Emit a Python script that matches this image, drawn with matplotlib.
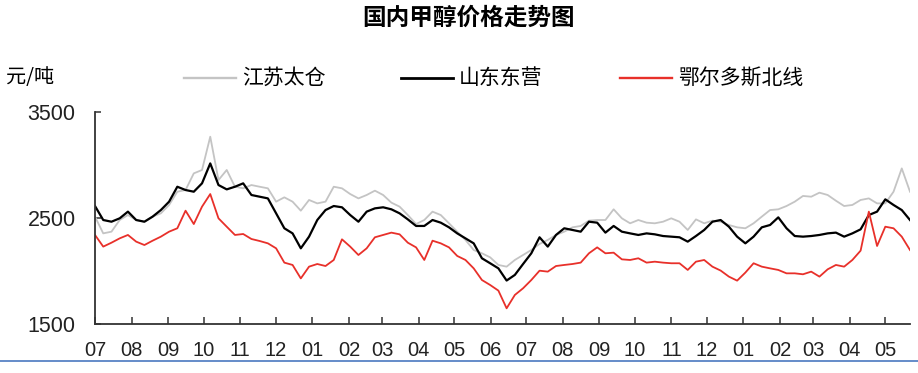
import pandas as pd
import matplotlib
matplotlib.use("Agg")
import matplotlib.pyplot as plt
import matplotlib.dates as mdates
from matplotlib.lines import Line2D

plt.rcParams['font.family'] = ['Noto Sans CJK SC', 'DejaVu Sans']

# roughly weekly samples, 2020-07-01 .. 2022-05-22
start_date = "2020-07-01"
end_date = "2022-05-22"

jiangsu_taicang = [
    2513, 2355, 2371, 2481, 2528, 2481, 2465, 2513, 2544, 2623,
    2748, 2764, 2921, 2953, 3267, 2858, 2953, 2795, 2780, 2811,
    2795, 2780, 2654, 2695, 2654, 2569, 2670, 2638, 2654, 2795,
    2780, 2726, 2685, 2717, 2758, 2717, 2645, 2607, 2528, 2443,
    2481, 2560, 2528, 2450, 2371, 2293, 2198, 2167, 2129, 2057,
    2041, 2104, 2151, 2198, 2255, 2293, 2340, 2371, 2412, 2425,
    2475, 2481, 2481, 2582, 2497, 2450, 2481, 2456, 2450, 2465,
    2497, 2465, 2387, 2487, 2450, 2475, 2465, 2434, 2412, 2403,
    2450, 2513, 2575, 2582, 2613, 2654, 2708, 2701, 2739, 2717,
    2663, 2613, 2623, 2670, 2685, 2638, 2638, 2748, 2968, 2748,
]

shandong_dongying = [
    2613, 2481, 2465, 2497, 2560, 2481, 2465, 2513, 2575, 2654,
    2795, 2764, 2748, 2827, 3015, 2811, 2770, 2795, 2827, 2717,
    2701, 2685, 2544, 2403, 2355, 2214, 2324, 2481, 2575, 2613,
    2601, 2528, 2465, 2560, 2591, 2601, 2582, 2544, 2487, 2425,
    2425, 2481, 2456, 2412, 2355, 2308, 2261, 2120, 2073, 2025,
    1910, 1963, 2066, 2167, 2318, 2230, 2340, 2403, 2387, 2371,
    2465, 2456, 2362, 2425, 2371, 2355, 2340, 2355, 2346, 2330,
    2324, 2318, 2277, 2330, 2387, 2465, 2481, 2418, 2324, 2261,
    2324, 2412, 2434, 2506, 2403, 2330, 2324, 2330, 2340, 2355,
    2362, 2324, 2355, 2393, 2528, 2560, 2676, 2623, 2575, 2481,
]

ordos_north = [
    2340, 2230, 2267, 2308, 2340, 2277, 2245, 2286, 2324, 2371,
    2403, 2569, 2443, 2607, 2726, 2497, 2418, 2340, 2349, 2302,
    2283, 2261, 2214, 2079, 2057, 1930, 2041, 2066, 2047, 2104,
    2299, 2230, 2151, 2214, 2318, 2340, 2362, 2346, 2267, 2223,
    2104, 2286, 2261, 2223, 2142, 2104, 2025, 1915, 1868, 1815,
    1648, 1774, 1837, 1915, 2003, 1994, 2047, 2057, 2066, 2079,
    2167, 2223, 2167, 2173, 2110, 2104, 2120, 2079, 2088, 2079,
    2073, 2073, 2010, 2088, 2104, 2041, 2004, 1947, 1909, 1985,
    2073, 2041, 2025, 2010, 1978, 1978, 1969, 1994, 1947, 2016,
    2057, 2041, 2104, 2192, 2560, 2236, 2418, 2403, 2324, 2198,
]

series_names = ["江苏太仓", "山东东营", "鄂尔多斯北线"]
series_colors = ["#c4c4c4", "#000000", "#e8302a"]
series_widths = [1.3, 1.6, 1.3]

dates = pd.date_range(start_date, end_date, periods=len(jiangsu_taicang))
all_series = [jiangsu_taicang, shandong_dongying, ordos_north]

fig = plt.figure(figsize=(9.18, 3.73), dpi=100)
ax = fig.add_axes([95 / 918, 1 - 324 / 373, 815 / 918, 212 / 373])

for vals, color, lw in zip(all_series, series_colors, series_widths):
    ax.plot(dates, vals, color=color, linewidth=lw)

ax.set_ylim(1500, 3500)
ax.set_yticks([1500, 2500, 3500])
ax.set_xlim(pd.Timestamp(start_date), pd.Timestamp(end_date))
ax.xaxis.set_major_locator(mdates.MonthLocator())
ax.xaxis.set_major_formatter(mdates.DateFormatter("%m"))

for s in ["top", "right"]:
    ax.spines[s].set_visible(False)
for s in ["left", "bottom"]:
    ax.spines[s].set_color("#333333")
    ax.spines[s].set_linewidth(1.3)

ax.tick_params(axis="x", direction="in", length=5, width=1.1, color="#333333",
               pad=12, labelsize=14.5)
ax.tick_params(axis="y", direction="in", length=4, width=1.1, color="#333333",
               pad=14, labelsize=15.5)
for lbl in ax.get_xticklabels() + ax.get_yticklabels():
    lbl.set_fontfamily("Liberation Sans")
    lbl.set_color("#222222")

fig.text(469 / 918, 1 - 18 / 373, "国内甲醇价格走势图", ha="center", va="center",
         fontsize=17, fontweight="bold")
fig.text(6 / 918, 1 - 78 / 373, "元/吨", ha="left", va="center", fontsize=14.5)

# hand-placed legend row
legend_x = [184, 401, 620]
for x0, name, color, lw in zip(legend_x, series_names, series_colors, series_widths):
    fig.add_artist(Line2D([x0 / 918, (x0 + 52) / 918], [1 - 78 / 373] * 2,
                          color=color, linewidth=lw + 0.4))
    fig.text((x0 + 58) / 918, 1 - 78 / 373, name, ha="left", va="center", fontsize=15)

# blue rule under the chart
fig.add_artist(Line2D([0, 1], [1 - 361 / 373] * 2, color="#4a78c0", linewidth=1.2))

fig.savefig("out.png", dpi=100)
